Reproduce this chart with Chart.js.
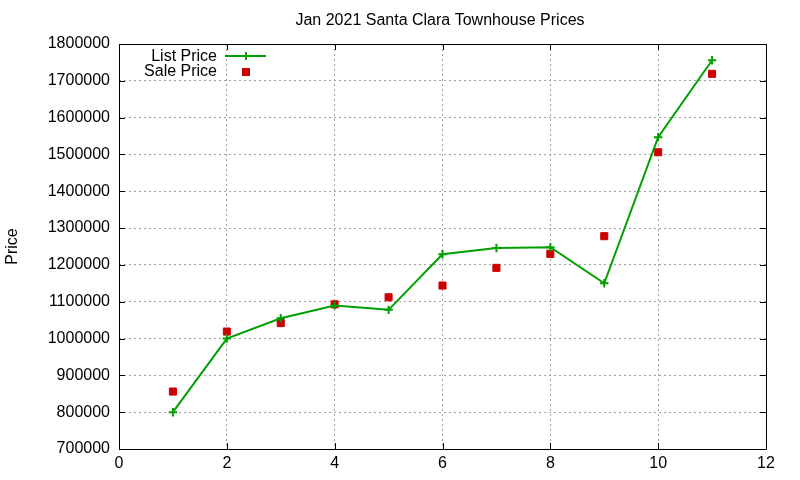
<!DOCTYPE html>
<html>
<head>
<meta charset="utf-8">
<script src="https://cdn.jsdelivr.net/npm/chart.js@4"></script>
<style>
html,body{margin:0;padding:0;background:#fff;}
#wrap{width:800px;height:480px;position:relative;}
</style>
</head>
<body>
<div id="wrap"><canvas id="c" width="800" height="480"></canvas></div>
<script>
const titleText = "Jan 2021 Santa Clara Townhouse Prices";
const yAxisTitle = "Price";
const xValues = [1, 2, 3, 4, 5, 6, 7, 8, 9, 10, 11];
const listPrice = [800000, 1000000, 1055000, 1090000, 1078000, 1229000, 1246000, 1248000, 1150000, 1547000, 1756000];
const salePrice = [856000, 1019000, 1042000, 1093000, 1112000, 1144000, 1192000, 1230000, 1278000, 1506000, 1719000];
const xTicks = [0, 2, 4, 6, 8, 10, 12];
const yTicks = [700000, 800000, 900000, 1000000, 1100000, 1200000, 1300000, 1400000, 1500000, 1600000, 1700000, 1800000];
const seriesNames = ["List Price", "Sale Price"];

const FONT = '"Liberation Sans", Arial, sans-serif';
const FSIZE = 16;
const GREEN = '#00a000';
const RED = '#cc0000';

const frame = {
  id: 'frame',
  afterDraw(chart) {
    const ctx = chart.ctx;
    const a = chart.chartArea;
    const xs = chart.scales.x, ys = chart.scales.y;
    ctx.save();
    ctx.strokeStyle = '#000';
    ctx.lineWidth = 1;
    ctx.beginPath();
    ctx.rect(Math.round(a.left) + 0.5, Math.round(a.top) + 0.5, Math.round(a.right - a.left), Math.round(a.bottom - a.top));
    ctx.stroke();
    // inward ticks
    ctx.beginPath();
    yTicks.forEach(v => {
      const y = Math.round(ys.getPixelForValue(v)) + 0.5;
      ctx.moveTo(a.left, y); ctx.lineTo(a.left + 6, y);
      ctx.moveTo(a.right, y); ctx.lineTo(a.right - 6, y);
    });
    xTicks.forEach(v => {
      const x = Math.round(xs.getPixelForValue(v)) + 0.5;
      ctx.moveTo(x, a.bottom); ctx.lineTo(x, a.bottom - 6);
      ctx.moveTo(x, a.top); ctx.lineTo(x, a.top + 6);
    });
    ctx.stroke();
    // title
    ctx.fillStyle = '#000';
    ctx.font = FSIZE + 'px ' + FONT;
    ctx.textAlign = 'center';
    ctx.textBaseline = 'middle';
    ctx.fillText(titleText, 440, 21);
    // y axis title
    ctx.save();
    ctx.translate(13, (a.top + a.bottom) / 2);
    ctx.rotate(-Math.PI / 2);
    ctx.fillText(yAxisTitle, 0, 0);
    ctx.restore();
    // legend
    ctx.textAlign = 'right';
    ctx.fillText(seriesNames[0], 217, 57);
    ctx.fillText(seriesNames[1], 217, 72);
    ctx.strokeStyle = GREEN;
    ctx.lineWidth = 2;
    ctx.beginPath();
    ctx.moveTo(225, 56); ctx.lineTo(266, 56);
    ctx.moveTo(246, 52); ctx.lineTo(246, 60);
    ctx.stroke();
    ctx.fillStyle = RED;
    ctx.fillRect(242, 68, 8, 8);
    ctx.restore();
  }
};

new Chart(document.getElementById('c'), {
  type: 'scatter',
  data: {
    datasets: [
      {
        label: seriesNames[0],
        data: xValues.map((x, i) => ({x: x, y: listPrice[i]})),
        showLine: true,
        borderColor: GREEN,
        backgroundColor: GREEN,
        borderWidth: 2,
        pointStyle: 'cross',
        pointRadius: 4.2,
        pointBorderWidth: 2,
        pointBorderColor: GREEN,
        tension: 0
      },
      {
        label: seriesNames[1],
        data: xValues.map((x, i) => ({x: x, y: salePrice[i]})),
        showLine: false,
        pointStyle: 'rect',
        pointRadius: 5,
        pointBorderWidth: 1,
        borderColor: RED,
        backgroundColor: RED
      }
    ]
  },
  options: {
    responsive: false,
    animation: false,
    devicePixelRatio: 1,
    layout: { padding: { left: 0, top: 44, right: 34, bottom: 0 } },
    plugins: { legend: { display: false }, title: { display: false }, tooltip: { enabled: false } },
    scales: {
      x: {
        type: 'linear',
        min: 0, max: 12,
        afterBuildTicks(s) { s.ticks = xTicks.map(v => ({value: v})); },
        afterFit(s) { s.height = 31; },
        grid: { color: '#a0a0a0', lineWidth: 1, drawTicks: false, tickLength: 0 },
        border: { display: false, dash: [2, 3] },
        ticks: { color: '#000', font: { family: FONT, size: FSIZE }, padding: 5, maxRotation: 0 }
      },
      y: {
        type: 'linear',
        min: 700000, max: 1800000,
        afterBuildTicks(s) { s.ticks = yTicks.map(v => ({value: v})); },
        afterFit(s) { s.width = 119; },
        grid: { color: '#a0a0a0', lineWidth: 1, drawTicks: false, tickLength: 0 },
        border: { display: false, dash: [2, 3] },
        ticks: { color: '#000', font: { family: FONT, size: FSIZE }, padding: 9, callback: v => String(v) }
      }
    }
  },
  plugins: [frame]
});
</script>
</body>
</html>
